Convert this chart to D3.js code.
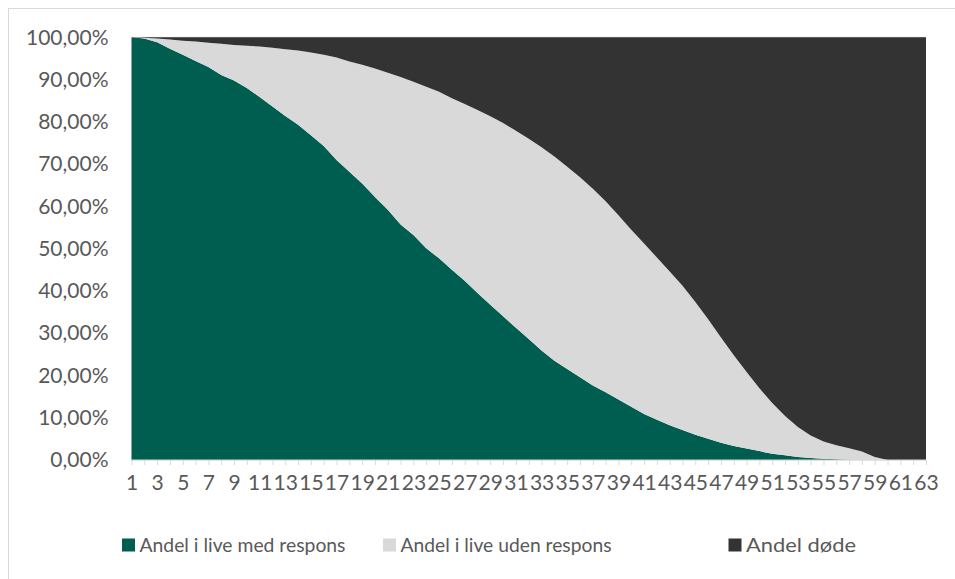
<!DOCTYPE html>
<html>
<head>
<meta charset="utf-8">
<script src="https://cdn.jsdelivr.net/npm/d3@7"></script>
<style>
  html, body { margin: 0; padding: 0; background: #fff; }
  svg { display: block; }
  text { font-family: Lato, "Open Sans", sans-serif; fill: #595959; }
</style>
</head>
<body>
<svg id="chart" width="955" height="579"></svg>
<script>
// Categories 1..63
const categories = ["1","2","3","4","5","6","7","8","9","10","11","12","13","14","15","16","17","18","19","20","21","22","23","24","25","26","27","28","29","30","31","32","33","34","35","36","37","38","39","40","41","42","43","44","45","46","47","48","49","50","51","52","53","54","55","56","57","58","59","60","61","62","63"];
const seriesNames = ["Andel i live med respons", "Andel i live uden respons", "Andel døde"];
// Share alive with response (%)
const medRespons = [100,99.7,98.8,97.3,95.9,94.4,93.0,91.1,89.8,88.0,85.9,83.6,81.4,79.3,76.8,74.3,71.0,68.2,65.4,62.2,59.2,55.7,53.2,50.1,47.7,45.0,42.4,39.5,36.7,34.0,31.3,28.6,25.9,23.5,21.5,19.6,17.6,16.0,14.3,12.6,10.9,9.5,8.2,7.1,6.0,5.0,4.1,3.3,2.7,2.1,1.5,1.1,0.7,0.5,0.3,0.18,0.05,0,0,0,0,0,0];
// Share alive without response (%)
const udenRespons = [0,0.2,0.9,2.2,3.3,4.6,5.7,7.4,8.4,10.0,11.9,13.9,15.8,17.6,19.6,21.6,24.2,26.1,28.1,30.4,32.4,34.9,36.3,38.2,39.4,40.6,41.8,43.3,44.6,45.7,46.6,47.4,48.1,48.3,47.9,47.3,46.6,45.2,43.6,41.9,40.3,38.4,36.4,34.1,31.4,28.3,24.9,21.5,18.1,14.9,12.0,9.3,7.1,5.3,4.1,3.32,2.75,2.0,0.7,0,0,0,0];
// Share dead (%)
const doede = [0,0.1,0.3,0.5,0.8,1.0,1.3,1.5,1.8,2.0,2.2,2.5,2.8,3.1,3.6,4.1,4.8,5.7,6.5,7.4,8.4,9.4,10.5,11.7,12.9,14.4,15.8,17.2,18.7,20.3,22.1,24.0,26.0,28.2,30.6,33.1,35.8,38.8,42.1,45.5,48.8,52.1,55.4,58.8,62.6,66.7,71.0,75.2,79.2,83.0,86.5,89.6,92.2,94.2,95.6,96.5,97.2,98.0,99.3,100,100,100,100];
const yTicks = [0,0.1,0.2,0.3,0.4,0.5,0.6,0.7,0.8,0.9,1.0];
const xLabelCategories = categories.filter((c, i) => i % 2 === 0);
const colors = ["#005E50", "#D9D9D9", "#333333"];

const svg = d3.select("#chart");

// chart border
svg.append("rect").attr("x", 8.5).attr("y", 8.5).attr("width", 960).attr("height", 600)
  .attr("fill", "none").attr("stroke", "#d9d9d9").attr("stroke-width", 1);

const plot = { left: 131.5, right: 926, top: 37.3, bottom: 460 };

const x = d3.scalePoint().domain(categories).range([plot.left, plot.right]);
const y = d3.scaleLinear().domain([0, 1]).range([plot.bottom, plot.top]);

const table = categories.map((c, i) => {
  const tot = medRespons[i] + udenRespons[i] + doede[i];
  return { cat: c, s0: medRespons[i] / tot, s1: udenRespons[i] / tot, s2: doede[i] / tot };
});
const stack = d3.stack().keys(["s0", "s1", "s2"]);
const layers = stack(table);

// gridlines
svg.append("g").selectAll("line").data(yTicks).join("line")
  .attr("x1", plot.left).attr("x2", plot.right)
  .attr("y1", d => y(d)).attr("y2", d => y(d))
  .attr("stroke", "#d9d9d9").attr("stroke-width", 1);

const area = d3.area()
  .x(d => x(d.data.cat))
  .y0(d => y(d[0]))
  .y1(d => y(d[1]));

svg.append("g").selectAll("path").data(layers).join("path")
  .attr("d", area)
  .attr("fill", (d, i) => colors[i]);

// y axis labels
const locale = d3.formatLocale({ decimal: ",", thousands: ".", grouping: [3], currency: ["", " kr."] });
const fmt = locale.format(".2%");
const yAxis = d3.axisLeft(y).tickValues(yTicks).tickSize(0).tickPadding(23).tickFormat(fmt);
const yg = svg.append("g").attr("transform", `translate(${plot.left},0)`).call(yAxis);
yg.select(".domain").remove();
yg.selectAll("text").style("font-size", "21px").style("font-family", "Lato").attr("fill", "#595959");

// x axis: tick marks at every category
const xTicksAxis = d3.axisBottom(x).tickValues(categories).tickSize(5).tickFormat("");
const xg = svg.append("g").attr("transform", `translate(0,${plot.bottom})`).call(xTicksAxis);
xg.select(".domain").attr("stroke", "#d9d9d9").attr("d", `M${plot.left},0H${plot.right}`);
xg.selectAll(".tick line").attr("stroke", "#d9d9d9");

// x labels for odd categories
const xLabelAxis = d3.axisBottom(x).tickValues(xLabelCategories).tickSize(0).tickPadding(15);
const xl = svg.append("g").attr("transform", `translate(0,${plot.bottom})`).call(xLabelAxis);
xl.select(".domain").remove();
xl.selectAll("text").style("font-size", "21px").style("font-family", "Lato").attr("fill", "#595959");

// legend
const legendX = [122, 383, 728.5];
const legendW = [206, 211, 110];
const lg = svg.append("g").selectAll("g").data(seriesNames).join("g")
  .attr("transform", (d, i) => `translate(${legendX[i]},538.5)`);
lg.append("rect").attr("width", 13).attr("height", 13).attr("fill", (d, i) => colors[i]);
lg.append("text").attr("x", 17.5).attr("y", 13).style("font-size", "20px")
  .attr("textLength", (d, i) => legendW[i]).attr("lengthAdjust", "spacingAndGlyphs")
  .text(d => d);
</script>
</body>
</html>
